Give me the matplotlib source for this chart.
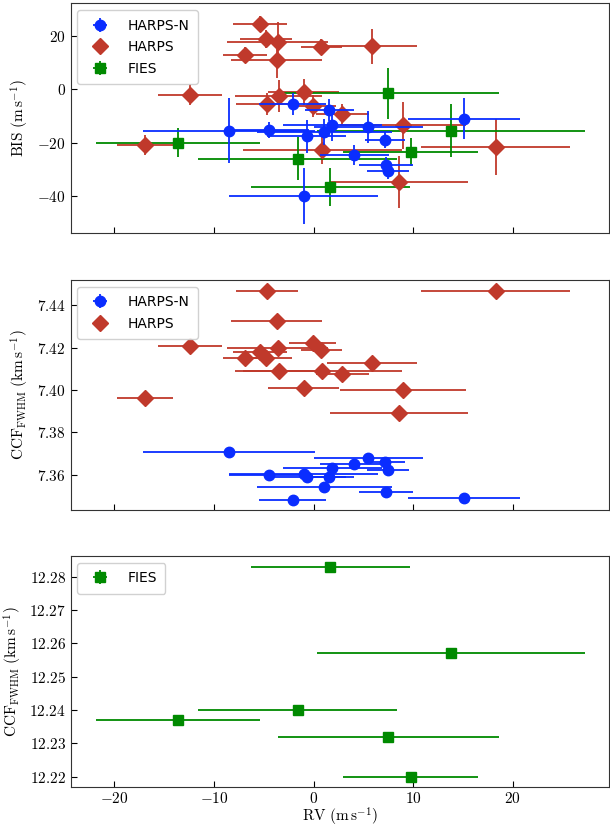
import matplotlib
matplotlib.use('Agg')
import matplotlib.pyplot as plt
from matplotlib.ticker import FuncFormatter, MultipleLocator
import numpy as np

plt.rcParams['mathtext.fontset'] = 'cm'

# HARPS-N
hn_rv = [-8.5, -4.5, -2.1, -0.7, -1.0, 1.6, 1.1, 1.9, 5.5, 7.2, 4.1, 7.25, 7.5, 15.1]
hn_rv_err = [8.6, 4.0, 3.4, 4.0, 7.5, 2.5, 6.8, 5.0, 5.5, 2.0, 3.5, 2.7, 2.1, 5.6]
hn_bis = [-15.6, -15.3, -5.6, -17.7, -40.0, -7.8, -16.1, -13.6, -14.0, -19.0, -24.6, -28.6, -30.6, -11.1]
hn_bis_err = [12.2, 3.1, 4.0, 6.3, 10.6, 4.1, 5.0, 6.0, 6.0, 3.1, 3.75, 3.0, 3.0, 7.7]
hn_fwhm = [7.3709, 7.3600, 7.3481, 7.3591, 7.3602, 7.3591, 7.3541, 7.3633, 7.3681, 7.3659, 7.3649, 7.3520, 7.3621, 7.3489]

# HARPS
h_rv = [-5.4, -4.8, -3.6, -6.9, -3.7, 0.8, -12.4, -3.5, -1.0, -4.7, -0.1, -16.9, 0.9, 5.9, 2.9, 9.0, 18.3, 8.6]
h_rv_err = [2.7, 2.6, 5.1, 2.2, 4.6, 2.05, 3.2, 4.4, 3.55, 3.1, 2.35, 2.8, 8.0, 4.5, 2.7, 6.3, 7.5, 6.9]
h_bis = [24.4, 18.7, 17.5, 12.9, 11.0, 15.9, -2.1, -2.5, -1.1, -5.6, -6.3, -20.9, -22.9, 16.0, -9.4, -13.6, -21.6, -34.8]
h_bis_err = [3.0, 3.4, 7.5, 3.0, 7.0, 3.0, 4.0, 6.0, 5.0, 4.0, 4.0, 3.75, 5.0, 6.4, 4.0, 8.7, 10.6, 9.7]
h_fwhm = [7.4181, 7.4150, 7.4200, 7.4150, 7.4327, 7.4189, 7.4208, 7.4090, 7.4008, 7.4467, 7.4223, 7.3961, 7.4090, 7.4129, 7.4077, 7.3999, 7.4467, 7.3890]

# FIES
f_rv = [-13.6, -1.6, 1.7, 7.5, 9.75, 13.8]
f_rv_err = [8.2, 10.0, 7.95, 11.1, 6.8, 13.5]
f_bis = [-20.0, -26.0, -36.5, -1.5, -23.5, -15.5]
f_bis_err = [5.3, 8.1, 7.1, 9.6, 5.3, 10.0]
f_fwhm = [12.2369, 12.2400, 12.2828, 12.2320, 12.2200, 12.2570]

blue = '#0a2dff'
red = '#c0392b'
green = '#008a00'
fwhm_err = 0.0004

fig = plt.figure(figsize=(6.1, 8.31), dpi=100)
ax1 = fig.add_axes([0.1156, 0.7193, 0.8833, 0.2768])
ax2 = fig.add_axes([0.1156, 0.3863, 0.8833, 0.2768])
ax3 = fig.add_axes([0.1156, 0.0526, 0.8833, 0.2783])

kw = dict(ls='none', elinewidth=1.3, capsize=0)

# panel 1: BIS
ax1.errorbar(hn_rv, hn_bis, xerr=hn_rv_err, yerr=hn_bis_err, fmt='o', color=blue, ms=7.5, label='HARPS-N', zorder=3, **kw)
ax1.errorbar(h_rv, h_bis, xerr=h_rv_err, yerr=h_bis_err, fmt='D', color=red, ms=8, label='HARPS', zorder=2, **kw)
ax1.errorbar(f_rv, f_bis, xerr=f_rv_err, yerr=f_bis_err, fmt='s', color=green, ms=7, label='FIES', zorder=2, **kw)
ax1.set_ylim(-54, 32.2)
ax1.yaxis.set_major_locator(MultipleLocator(20))
ax1.set_ylabel(r'$\mathrm{BIS\ (m\,s^{-1})}$', fontsize=11)

# panel 2: FWHM HARPS-N / HARPS
ax2.errorbar(hn_rv, hn_fwhm, xerr=hn_rv_err, yerr=fwhm_err, fmt='o', color=blue, ms=7.5, label='HARPS-N', zorder=3, **kw)
ax2.errorbar(h_rv, h_fwhm, xerr=h_rv_err, yerr=fwhm_err, fmt='D', color=red, ms=8, label='HARPS', zorder=2, **kw)
ax2.set_ylim(7.3434, 7.4519)
ax2.yaxis.set_major_locator(MultipleLocator(0.02))
ax2.set_ylabel(r'$\mathrm{CCF_{FWHM}\ (km\,s^{-1})}$', fontsize=11)

# panel 3: FWHM FIES
ax3.errorbar(f_rv, f_fwhm, xerr=f_rv_err, yerr=fwhm_err / 2, fmt='s', color=green, ms=7, label='FIES', **kw)
ax3.set_ylim(12.2168, 12.2862)
ax3.yaxis.set_major_locator(MultipleLocator(0.01))
ax3.set_ylabel(r'$\mathrm{CCF_{FWHM}\ (km\,s^{-1})}$', fontsize=11)
ax3.set_xlabel(r'$\mathrm{RV\ (m\,s^{-1})}$', fontsize=11, labelpad=0)

fmts = [lambda v, p: r'$%g$' % v,
        lambda v, p: r'$%.2f$' % v,
        lambda v, p: r'$%.2f$' % v]
for ax, f in zip([ax1, ax2, ax3], fmts):
    ax.set_xlim(-24.4, 29.7)
    ax.xaxis.set_major_locator(MultipleLocator(10))
    ax.tick_params(direction='in', labelsize=11, length=4, top=False, right=False)
    ax.tick_params(axis='x', pad=2.5)
    ax.yaxis.set_major_formatter(FuncFormatter(f))
    ax.xaxis.set_major_formatter(FuncFormatter(lambda v, p: r'$%g$' % v))
    ax.legend(loc='upper left', fontsize=10, borderpad=0.6, labelspacing=0.55,
              handletextpad=1.0, framealpha=0.9)
    for s in ax.spines.values():
        s.set_color('#333333')
ax1.tick_params(labelbottom=False)
ax2.tick_params(labelbottom=False)

plt.savefig('out.png', dpi=100)
